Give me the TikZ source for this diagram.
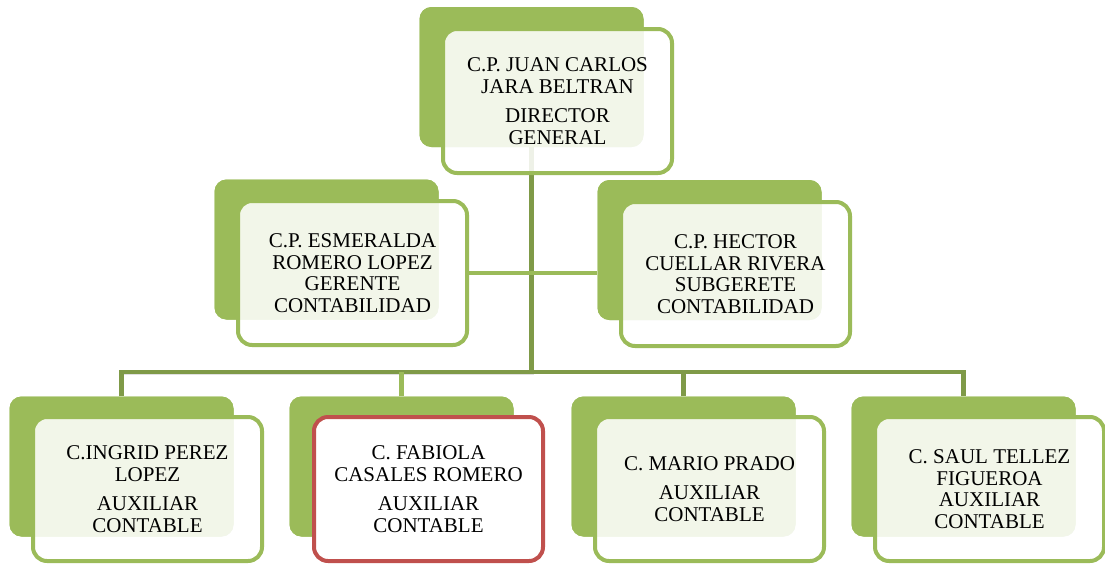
\documentclass[tikz,border=0pt]{standalone}
\usepackage{fontspec}
\setmainfont{Liberation Serif}
\definecolor{gl}{HTML}{9BBB59}
\definecolor{gd}{HTML}{7F9A48}
\definecolor{rd}{HTML}{C0504D}
\begin{document}
\begin{tikzpicture}[x=1pt,y=-1pt,
  back/.style={fill=gl, rounded corners=12pt, minimum width=224pt, minimum height=140pt, inner sep=0pt},
  front/.style={draw=gl, line width=4pt, fill=white, fill opacity=0.87, text opacity=1, rounded corners=14pt,
    minimum width=229pt, minimum height=144pt, inner sep=0pt, align=center, text=black,
    font=\fontsize{21}{21.7}\selectfont},
  frontred/.style={front, draw=rd, fill opacity=1},
  trunk/.style={draw=gd, line width=4.5pt},
  trunkshadow/.style={draw=black, opacity=0.12, line width=5pt},
  assist/.style={draw=gl, line width=4.5pt}]
\useasboundingbox (0,0) rectangle (1105,563);

% back shapes (positions)
\coordinate (j) at (531.5,372);

\node[back] (topB) at (531.5,77) {};
\node[back] (esmB) at (326.5,249.5) {};
\node[back] (hecB) at (709.5,250) {};
\node[back] (b1B) at (121.5,466.5) {};
\node[back] (b2B) at (401.5,466.5) {};
\node[back] (b3B) at (683.5,466.5) {};
\node[back] (b4B) at (963.5,466.5) {};

% connectors (drawn on background by redrawing backs afterwards)
\begin{scope}[shift={(2,3)}]
  \draw[trunkshadow] (topB.south) -- (j) -- (b1B.north |- j);
\end{scope}
\draw[trunk] (topB.south) -- (j);
\draw[trunk] (b1B.north) -- (b1B.north |- j) -- (b4B.north |- j) -- (b4B.north);
\draw[assist] (b2B.north) -- (b2B.north |- j);
\draw[trunk] (b3B.north) -- (b3B.north |- j);

% redraw back shapes over connector ends
\node[back] at (topB) {};
\node[back] at (esmB) {};
\node[back] at (hecB) {};
\node[back] at (b1B) {};
\node[back] at (b2B) {};
\node[back] at (b3B) {};
\node[back] at (b4B) {};

% front boxes
\node[front] (topF) at (557.5,101) {C.P. JUAN CARLOS\\JARA BELTRAN\\[8pt]DIRECTOR\\GENERAL};
\node[front] (esmF) at (352.5,273) {C.P. ESMERALDA\\ROMERO LOPEZ\\GERENTE\\CONTABILIDAD};
\node[front] (hecF) at (735.5,274) {C.P. HECTOR\\CUELLAR RIVERA\\SUBGERETE\\CONTABILIDAD};
\node[front] (b1F) at (147.5,489) {C.INGRID PEREZ\\LOPEZ\\[8pt]AUXILIAR\\CONTABLE};
\node[frontred] (b2F) at (428.5,489) {C. FABIOLA\\CASALES ROMERO\\[8pt]AUXILIAR\\CONTABLE};
\node[front] (b3F) at (709.5,489) {C. MARIO PRADO\\[8pt]AUXILIAR\\CONTABLE};
\node[front] (b4F) at (989.5,489) {C. SAUL TELLEZ\\FIGUEROA\\AUXILIAR\\CONTABLE};

% assistant connector
\draw[assist] (esmF.east) -- (esmF.east -| hecB.west);
\end{tikzpicture}
\end{document}
